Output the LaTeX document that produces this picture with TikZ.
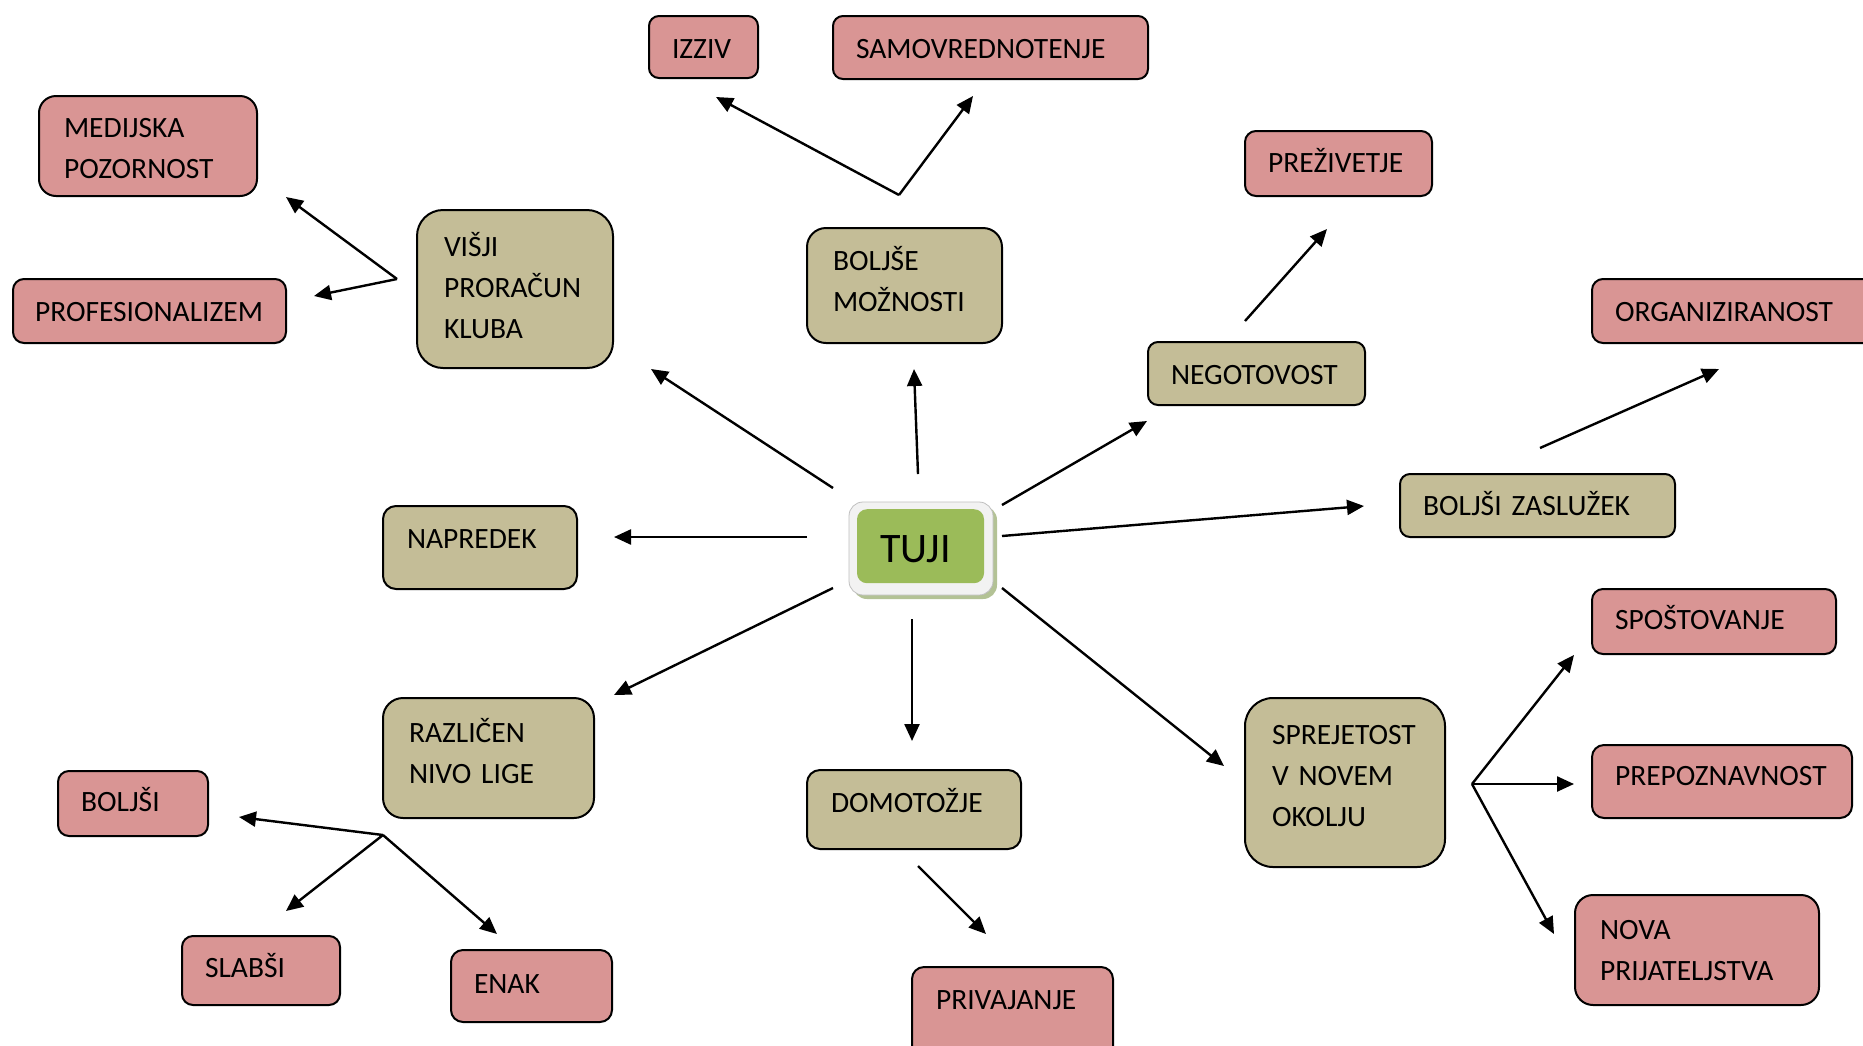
\documentclass[tikz,border=0pt]{standalone}
\usepackage{fontspec}
\setmainfont{Carlito}
\usetikzlibrary{arrows.meta}
\definecolor{tanc}{HTML}{C4BD97}
\definecolor{pinkc}{HTML}{D99594}
\definecolor{greenc}{HTML}{9BBB59}
\definecolor{shadowc}{HTML}{B3C295}
\definecolor{rimc}{HTML}{F2F2F2}
\tikzset{
  box/.style={draw=black, line width=2pt, inner ysep=0pt, align=left, anchor=north,
    font=\fontsize{29.5}{40.8}\selectfont},
  tanbox/.style={box, fill=tanc},
  pinkbox/.style={box, fill=pinkc},
  arr/.style={line width=2.4pt, -{Triangle[length=17pt,width=15pt]}},
}
% helper: #1 xsep, #2 width, #3 height, #4 top, #5 baseline
\tikzset{geom/.style n args={5}{inner xsep=#1, text width=#2-2*#1, text height=#5-#4, text depth=#4+#3-#5}}
\begin{document}
\begin{tikzpicture}[x=1pt,y=-1pt]
\useasboundingbox (0,0) rectangle (1863,1045);
\clip (0,0) rectangle (1863,1045);
\fill[white] (0,0) rectangle (1863,1045);

% top pink
\node[pinkbox, rounded corners=10pt, geom={23pt}{109pt}{62pt}{15pt}{57pt}] (izziv) at (703.5,15) {IZZIV};
\node[pinkbox, rounded corners=10pt, geom={23pt}{315pt}{63pt}{15pt}{57pt}] (samo) at (990.5,15) {SAMOVREDNOTENJE};
\node[pinkbox, rounded corners=17pt, geom={25pt}{218pt}{100pt}{95pt}{136.5pt}] (medij) at (148,95) {MEDIJSKA\\POZORNOST};
\node[pinkbox, rounded corners=11pt, geom={22pt}{273pt}{64pt}{278pt}{320.5pt}] (profes) at (149.5,278) {PROFESIONALIZEM};
\node[pinkbox, rounded corners=11pt, geom={23pt}{187pt}{65pt}{130pt}{171pt}] (preziv) at (1338.5,130) {PREŽIVETJE};
\node[pinkbox, rounded corners=11pt, geom={23pt}{288pt}{64pt}{278pt}{320.5pt}] (organ) at (1736,278) {ORGANIZIRANOST};

% tan nodes
\node[tanbox, rounded corners=26pt, geom={27pt}{196pt}{158pt}{209pt}{255.5pt}] (visji) at (515,209) {VIŠJI\\PRORAČUN\\KLUBA};
\node[tanbox, rounded corners=19pt, geom={26pt}{195pt}{115pt}{227pt}{269.5pt}] (bolse) at (904.5,227) {BOLJŠE\\MOŽNOSTI};
\node[tanbox, rounded corners=10pt, geom={23pt}{217pt}{63pt}{341pt}{383.5pt}] (negot) at (1256.5,341) {NEGOTOVOST};
\node[tanbox, rounded corners=10pt, geom={23pt}{275pt}{63pt}{473pt}{514.5pt}] (zasl) at (1537.5,473) {BOLJŠI ZASLUŽEK};
\node[tanbox, rounded corners=13pt, geom={24pt}{194pt}{83pt}{505pt}{547.5pt}] (napr) at (480,505) {NAPREDEK};
\node[tanbox, rounded corners=20pt, geom={26pt}{211pt}{120pt}{697pt}{741.5pt}] (razl) at (488.5,697) {RAZLIČEN\\NIVO LIGE};
\node[tanbox, rounded corners=13pt, geom={24pt}{214pt}{79pt}{769pt}{811.5pt}] (domot) at (914,769) {DOMOTOŽJE};
\node[tanbox, rounded corners=28pt, geom={27pt}{200pt}{169pt}{697pt}{743.5pt}] (sprej) at (1345,697) {SPREJETOST\\V NOVEM\\OKOLJU};

% bottom / right pink
\node[pinkbox, rounded corners=11pt, geom={23pt}{244pt}{65pt}{588pt}{628.5pt}] (spost) at (1714,588) {SPOŠTOVANJE};
\node[pinkbox, rounded corners=12pt, geom={23pt}{260pt}{73pt}{744pt}{784pt}] (prepoz) at (1722,744) {PREPOZNAVNOST};
\node[pinkbox, rounded corners=18pt, geom={25pt}{244pt}{110pt}{894pt}{938.5pt}] (nova) at (1697,894) {NOVA\\PRIJATELJSTVA};
\node[pinkbox, rounded corners=11pt, geom={23pt}{150pt}{65pt}{770pt}{810pt}] (bolsi) at (133,770) {BOLJŠI};
\node[pinkbox, rounded corners=11pt, geom={23pt}{158pt}{69pt}{935pt}{976.5pt}] (slabsi) at (261,935) {SLABŠI};
\node[pinkbox, rounded corners=12pt, geom={23pt}{161pt}{72pt}{949pt}{992pt}] (enak) at (531.5,949) {ENAK};
\node[pinkbox, rounded corners=12pt, geom={24pt}{201pt}{110pt}{966pt}{1008pt}] (privaj) at (1012.5,966) {PRIVAJANJE};

% TUJI
\fill[shadowc, rounded corners=14pt] (853,506) rectangle (997,599);
\draw[draw=black!25, fill=rimc, rounded corners=14pt, line width=0.8pt] (849,502) rectangle (993,595);
\node[fill=greenc, rounded corners=10pt, anchor=north, minimum width=127pt, inner sep=0pt,
  text height=53.5pt, text depth=20.5pt,
  font=\fontsize{42}{48}\selectfont] (tuji) at (920.5,509) {TUJI\hspace*{10pt}};

% coordinates
\coordinate (s1) at (833,488); \coordinate (e1) at (651,369);
\coordinate (s2) at (918,474); \coordinate (e2) at (914,369);
\coordinate (s3) at (1002,505); \coordinate (e3) at (1147,421);
\coordinate (s4) at (1002,536); \coordinate (e4) at (1364,506);
\coordinate (s5) at (807,537); \coordinate (e5) at (614,537);
\coordinate (s6) at (833,588); \coordinate (e6) at (614,695);
\coordinate (s7) at (912,619); \coordinate (e7) at (912,741);
\coordinate (s8) at (1002,588); \coordinate (e8) at (1224,766);

\coordinate (f1) at (397,279); \coordinate (f1a) at (286,197); \coordinate (f1b) at (314,296);
\coordinate (f2) at (899,195); \coordinate (f2a) at (716,97); \coordinate (f2b) at (973,96);
\coordinate (ns) at (1245,321); \coordinate (ne) at (1327,229);
\coordinate (zs) at (1540,448); \coordinate (ze) at (1719,369);
\coordinate (f3) at (383,835); \coordinate (f3a) at (239,817); \coordinate (f3b) at (286,911); \coordinate (f3c) at (497,934);
\coordinate (ds) at (918,866); \coordinate (de) at (986,934);
\coordinate (f4) at (1472,784); \coordinate (f4a) at (1574,655); \coordinate (f4b) at (1574,784); \coordinate (f4c) at (1554,934);

\foreach \i in {1,...,8} { \draw[arr] (s\i) -- (e\i); }
\draw[arr] (f1) -- (f1a);
\draw[arr] (f1) -- (f1b);
\draw[arr] (f2) -- (f2a);
\draw[arr] (f2) -- (f2b);
\draw[arr] (ns) -- (ne);
\draw[arr] (zs) -- (ze);
\draw[arr] (f3) -- (f3a);
\draw[arr] (f3) -- (f3b);
\draw[arr] (f3) -- (f3c);
\draw[arr] (ds) -- (de);
\draw[arr] (f4) -- (f4a);
\draw[arr] (f4) -- (f4b);
\draw[arr] (f4) -- (f4c);
\end{tikzpicture}
\end{document}
